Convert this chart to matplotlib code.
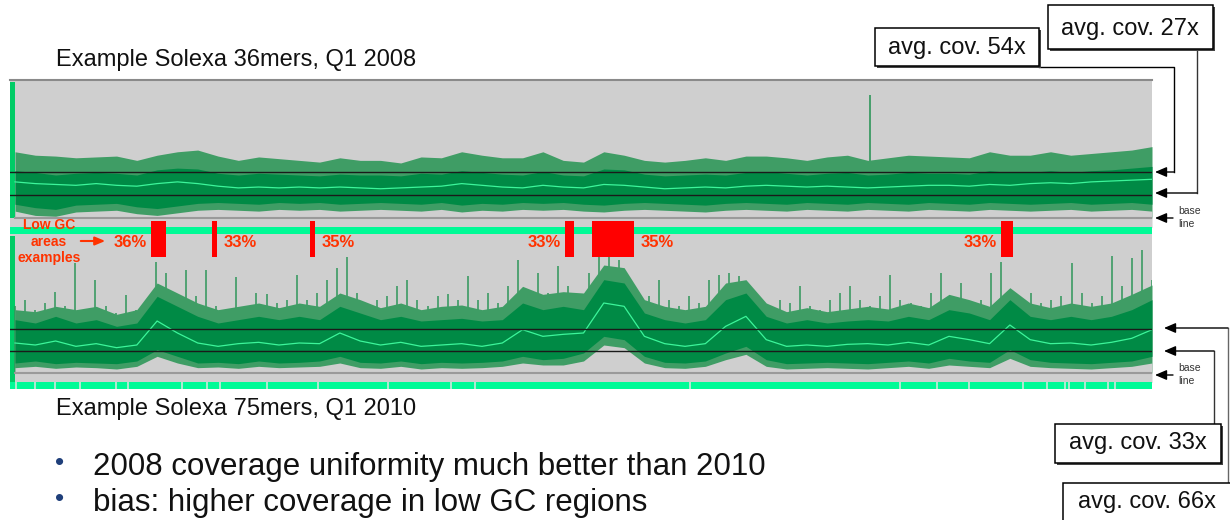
import numpy as np
import matplotlib
matplotlib.use('Agg')
import matplotlib.pyplot as plt
from matplotlib.patches import Rectangle

plt.rcParams['font.family'] = ['Liberation Sans', 'DejaVu Sans']

W, H = 1230, 520

# ---------------- data ----------------
top_title = "Example Solexa 36mers, Q1 2008"
bottom_title = "Example Solexa 75mers, Q1 2010"
top_avg = [54, 27]
bottom_avg = [66, 33]
top_avg_labels = ["avg. cov. 54x", "avg. cov. 27x"]
bottom_avg_labels = ["avg. cov. 66x", "avg. cov. 33x"]

# top track (2008), coverage envelopes per ~20 kb bin
top_max = [77, 73, 72, 70, 71, 72, 67, 73, 77, 79, 72, 67, 71, 69, 67, 65, 70, 67, 67,
           64, 71, 70, 77, 73, 70, 70, 77, 67, 65, 77, 73, 67, 65, 67, 70, 67, 72, 72,
           70, 67, 71, 73, 67, 70, 73, 72, 71, 70, 77, 73, 73, 77, 73, 75, 77, 79, 83]
top_hi = [55, 53, 50, 52, 53, 52, 50, 56, 58, 57, 52, 50, 52, 51, 50, 49, 51, 50, 50,
          49, 52, 51, 55, 53, 51, 50, 54, 50, 49, 57, 56, 51, 49, 50, 51, 50, 53, 54,
          52, 50, 52, 53, 50, 51, 53, 52, 52, 51, 55, 53, 53, 55, 53, 55, 56, 58, 60]
top_mean = [42, 40, 39, 38, 40, 38, 37, 40, 42, 40, 37, 35, 36, 35, 36, 35, 36, 35, 34,
            35, 36, 37, 40, 38, 36, 35, 38, 36, 35, 39, 38, 36, 34, 35, 36, 35, 37, 38,
            37, 36, 37, 36, 35, 36, 37, 38, 38, 37, 39, 38, 40, 41, 40, 42, 43, 44, 45]
top_lo = [16, 12, 10, 15, 16, 17, 13, 11, 14, 17, 18, 17, 16, 18, 17, 18, 16, 17, 18,
          17, 16, 18, 15, 17, 16, 18, 17, 18, 16, 15, 17, 18, 17, 16, 15, 17, 18, 17,
          16, 18, 17, 16, 18, 17, 16, 18, 17, 16, 18, 17, 16, 17, 18, 16, 17, 18, 16]
top_min = [8, 3, 2, 7, 8, 9, 5, 3, 6, 9, 10, 9, 8, 10, 9, 10, 8, 9, 10,
           9, 8, 10, 7, 9, 8, 10, 9, 10, 8, 7, 9, 10, 9, 8, 7, 9, 10, 9,
           8, 10, 9, 8, 10, 9, 8, 10, 9, 8, 10, 9, 8, 9, 10, 8, 9, 10, 8]
top_spike_pos = [860]
top_spike_cov = [143]

# bottom track (2010)
bottom_max = [100, 110, 95, 105, 121, 100, 165, 95, 140, 100, 90, 117, 95, 110, 166, 150,
              120, 155, 115, 154, 100, 95, 144, 100, 120, 118, 105, 110, 147, 110, 120, 140,
              157, 174, 120, 105, 110, 115, 130, 140, 110, 100, 115, 118, 110, 145, 110, 120,
              105, 130, 169, 125, 150, 120, 160, 130, 115, 150, 180, 175, 170, 130, 110, 115,
              140, 110, 100, 115, 105, 140, 147, 150, 145, 130, 100, 95, 110, 105, 130, 100,
              95, 110, 120, 130, 110, 100, 115, 147, 110, 105, 100, 120, 150, 110, 135, 100,
              110, 150, 166, 125, 110, 120, 105, 110, 115, 165, 120, 105, 115, 175, 130, 172,
              184, 140]
bottom_dense = [95, 92, 100, 95, 100, 88, 95, 135, 120, 105, 95, 100, 105, 98, 105, 100, 120,
                110, 98, 105, 95, 100, 102, 95, 100, 130, 118, 122, 120, 162, 158, 110, 100,
                95, 100, 135, 140, 105, 92, 98, 92, 96, 100, 96, 105, 98, 118, 110, 100, 128,
                105, 98, 105, 100, 105, 118, 132]
bottom_hi = [80, 75, 85, 75, 80, 70, 75, 115, 100, 85, 75, 80, 85, 80, 85, 80, 100, 90, 80,
             85, 78, 80, 82, 78, 80, 105, 95, 100, 95, 140, 135, 90, 80, 75, 80, 110, 120, 85,
             75, 80, 75, 78, 80, 78, 85, 80, 95, 90, 80, 110, 85, 80, 85, 80, 85, 95, 110]
bottom_mean = [45, 42, 48, 40, 44, 38, 42, 78, 60, 45, 40, 44, 46, 42, 45, 44, 60, 48, 42,
               46, 40, 42, 44, 40, 45, 65, 55, 58, 60, 105, 100, 55, 44, 40, 44, 70, 85, 50,
               40, 42, 40, 43, 44, 42, 46, 42, 55, 50, 44, 72, 50, 44, 45, 42, 46, 52, 65]
bottom_lo = [15, 18, 14, 16, 15, 14, 18, 35, 25, 15, 16, 14, 18, 15, 16, 18, 25, 16, 15,
             18, 14, 16, 15, 16, 18, 25, 20, 22, 30, 55, 50, 25, 16, 15, 18, 30, 40, 20,
             14, 15, 16, 15, 14, 16, 18, 15, 22, 18, 16, 35, 20, 16, 15, 14, 16, 18, 25]
bottom_min = [8, 10, 7, 9, 8, 6, 10, 25, 15, 8, 9, 7, 10, 8, 9, 10, 15, 8, 7,
              10, 6, 8, 7, 8, 10, 15, 12, 12, 18, 42, 38, 15, 8, 7, 10, 20, 28, 10,
              6, 7, 8, 7, 6, 8, 10, 7, 12, 10, 8, 22, 10, 8, 7, 6, 8, 10, 15]
strip_gaps = [6, 25, 45, 70, 106, 118, 172, 197, 210, 257, 308, 378, 441, 465,
              680, 890, 927, 959, 1013, 1037, 1055, 1059, 1075, 1098, 1105]

# low-GC example regions
gc_start = [141, 202, 300, 555, 582, 991]
gc_end = [156, 207, 305, 564, 624, 1003]
gc_pct = [36, 33, 35, 33, 35, 33]
gc_label_side = ['left', 'right', 'right', 'left', 'right', 'left']

bullets = ["2008 coverage uniformity much better than 2010",
           "bias: higher coverage in low GC regions"]

# ---------------- styles ----------------
PANEL = '#cfcfcf'
BULK = '#008a45'
FRINGE = '#3f9d65'
SPIKE = '#2f965a'
MEAN = '#3cf59a'
STRIP = '#00fa96'
LEFTBAR = '#00cc66'
RED = '#ff0000'
LABELRED = '#ff3300'
XMAX = 1142

fig = plt.figure(figsize=(W / 100, H / 100), dpi=100)
fig.patch.set_facecolor('white')


def px_axes(x0, y0, x1, y1, z=1):
    ax = fig.add_axes([x0 / W, 1 - y1 / H, (x1 - x0) / W, (y1 - y0) / H])
    ax.set_zorder(z)
    ax.set_axis_off()
    ax.patch.set_alpha(0)
    return ax


# background panel
bg = px_axes(0, 0, W, H, z=0)
bg.set_xlim(0, W)
bg.set_ylim(H, 0)
bg.add_patch(Rectangle((10, 79), 1142, 310, facecolor=PANEL, edgecolor='none'))
bg.plot([10, 1152], [79.5, 79.5], color='#8a8a8a', lw=1.5)
bg.add_patch(Rectangle((10, 82), 5, 136, facecolor=LEFTBAR, edgecolor='none'))
bg.add_patch(Rectangle((10, 236), 5, 153, facecolor=LEFTBAR, edgecolor='none'))


def draw_track(ax, fringe_top, spikes, hi, mean, lo, cmin, avgs):
    xc = np.linspace(5, XMAX, len(hi))
    if spikes is not None:
        xs = np.linspace(5, XMAX, len(spikes))
        ax.vlines(xs, 0, spikes, color=SPIKE, lw=1.1, zorder=0.5)
    xf = np.linspace(5, XMAX, len(fringe_top))
    ax.fill_between(xf, 0, fringe_top, color=FRINGE, lw=0, zorder=1)
    ax.fill_between(xc, -20, cmin, color=PANEL, lw=0, zorder=1.1)
    ax.fill_between(xc, lo, hi, color=BULK, lw=0, zorder=1.2)
    ax.plot(xc, mean, color=MEAN, lw=0.9, zorder=1.3)
    ax.axhline(0, xmin=5 / XMAX, color='#9a9a9a', lw=1.5, zorder=1.4)
    for a in avgs:
        ax.axhline(a, color='#1a1a1a', lw=1.0, zorder=1.5)


# top track
axt = px_axes(10, 79, 1152, 227, z=1)
axt.set_xlim(0, XMAX)
axt.set_ylim(-(227 - 218) / 0.86, (218 - 79) / 0.86)
draw_track(axt, top_max, None, top_hi, top_mean, top_lo, top_min, top_avg)
axt.vlines(top_spike_pos, 0, top_spike_cov, color=SPIKE, lw=1.2, zorder=0.5)

# bottom track
axb = px_axes(10, 234, 1152, 382, z=1)
axb.set_xlim(0, XMAX)
axb.set_ylim(-(382 - 373) * 1.5, (373 - 234) * 1.5)
draw_track(axb, bottom_dense, bottom_max, bottom_hi, bottom_mean, bottom_lo, bottom_min,
           bottom_avg)

# top strip
axs1 = px_axes(10, 227, 1152, 234, z=2)
axs1.set_xlim(0, XMAX)
axs1.set_ylim(0, 1)
axs1.axhspan(0, 1, color=STRIP, lw=0)

# bottom strip with gaps
axs2 = px_axes(10, 382, 1152, 389, z=2)
axs2.set_xlim(0, XMAX)
axs2.set_ylim(0, 1)
axs2.axhspan(0, 1, color=STRIP, lw=0)
axs2.vlines(strip_gaps, 0, 1, color='#cfe9dc', lw=1.2)

# GC regions
axg = px_axes(10, 221, 1152, 257, z=3)
axg.set_xlim(0, XMAX)
axg.set_ylim(0, 1)
axg.bar(gc_start, 1, width=np.array(gc_end) - np.array(gc_start), align='edge',
        color=RED, lw=0)
for s, e, p, side in zip(gc_start, gc_end, gc_pct, gc_label_side):
    if side == 'left':
        axg.annotate(f"{p}%", xy=(s, 0.39), xytext=(-3, 0), textcoords='offset points',
                     ha='right', va='center', color=LABELRED, fontsize=12, fontweight='bold')
    else:
        axg.annotate(f"{p}%", xy=(e, 0.39), xytext=(5, 0), textcoords='offset points',
                     ha='left', va='center', color=LABELRED, fontsize=12, fontweight='bold')

# overlay decorations
ov = px_axes(0, 0, W, H, z=5)
ov.set_xlim(0, W)
ov.set_ylim(H, 0)

for txt, yy in zip(["Low GC", "areas", "examples"], [225, 242, 258]):
    ov.text(49, yy, txt, ha='center', va='center', color=LABELRED, fontsize=10,
            fontweight='bold')
ov.annotate('', xy=(108, 241), xytext=(78, 241),
            arrowprops=dict(arrowstyle='-|>,head_length=0.6,head_width=0.25',
                            color=LABELRED, lw=1.5))

ov.text(56, 60, top_title, ha='left', va='center', fontsize=17, color='#111111')
ov.text(56, 409, bottom_title, ha='left', va='center', fontsize=17, color='#111111')

ARW = dict(arrowstyle='-|>,head_length=0.7,head_width=0.3', color='black', lw=1.0,
           shrinkA=0, shrinkB=0)


def box(x0, y0, x1, y1, label, cx, cy):
    ov.add_patch(Rectangle((x0 + 1.5, y0 + 1.5), x1 - x0, y1 - y0, facecolor='#444444',
                           edgecolor='none', zorder=3))
    ov.add_patch(Rectangle((x0, y0), x1 - x0, y1 - y0, facecolor='white',
                           edgecolor='black', lw=1.1, zorder=4))
    ov.text(cx, cy, label, ha='center', va='center', fontsize=17, color='#111111', zorder=5)


# top right boxes
box(875, 28, 1039, 66, top_avg_labels[0], 957, 48)
ov.plot([1039, 1174, 1174], [67, 67, 172], color='black', lw=1.0)
ov.annotate('', xy=(1155, 172), xytext=(1174, 172), arrowprops=ARW)
box(1048, 5, 1213, 49, top_avg_labels[1], 1130, 29)
ov.plot([1197, 1197], [50, 193], color='#333333', lw=1.0)
ov.annotate('', xy=(1155, 193), xytext=(1197, 193), arrowprops=ARW)

# base line labels
for yb in [218, 375]:
    ov.annotate('', xy=(1155, yb), xytext=(1173, yb), arrowprops=ARW)
    ov.text(1178, yb - 7, "base", ha='left', va='center', fontsize=7.5, color='#333333')
    ov.text(1178, yb + 6, "line", ha='left', va='center', fontsize=7.5, color='#333333')

# bottom right boxes
box(1055, 424, 1221, 463, bottom_avg_labels[1], 1138, 443)
ov.plot([1214, 1214], [424, 351], color='#333333', lw=1.0)
ov.annotate('', xy=(1164, 351), xytext=(1214, 351), arrowprops=ARW)
box(1063, 483, 1240, 530, bottom_avg_labels[0], 1147, 502)
ov.plot([1228, 1228], [483, 328], color='#666666', lw=1.0)
ov.annotate('', xy=(1164, 328), xytext=(1228, 328), arrowprops=ARW)

# bullets
for txt, yy in zip(bullets, [467, 503]):
    ov.text(60, yy - 4, "\u2022", ha='center', va='center', fontsize=19, color='#1f3f7a')
    ov.text(93, yy, txt, ha='left', va='center', fontsize=22.5, color='#111111')

fig.savefig('out.png', dpi=100, facecolor='white')
